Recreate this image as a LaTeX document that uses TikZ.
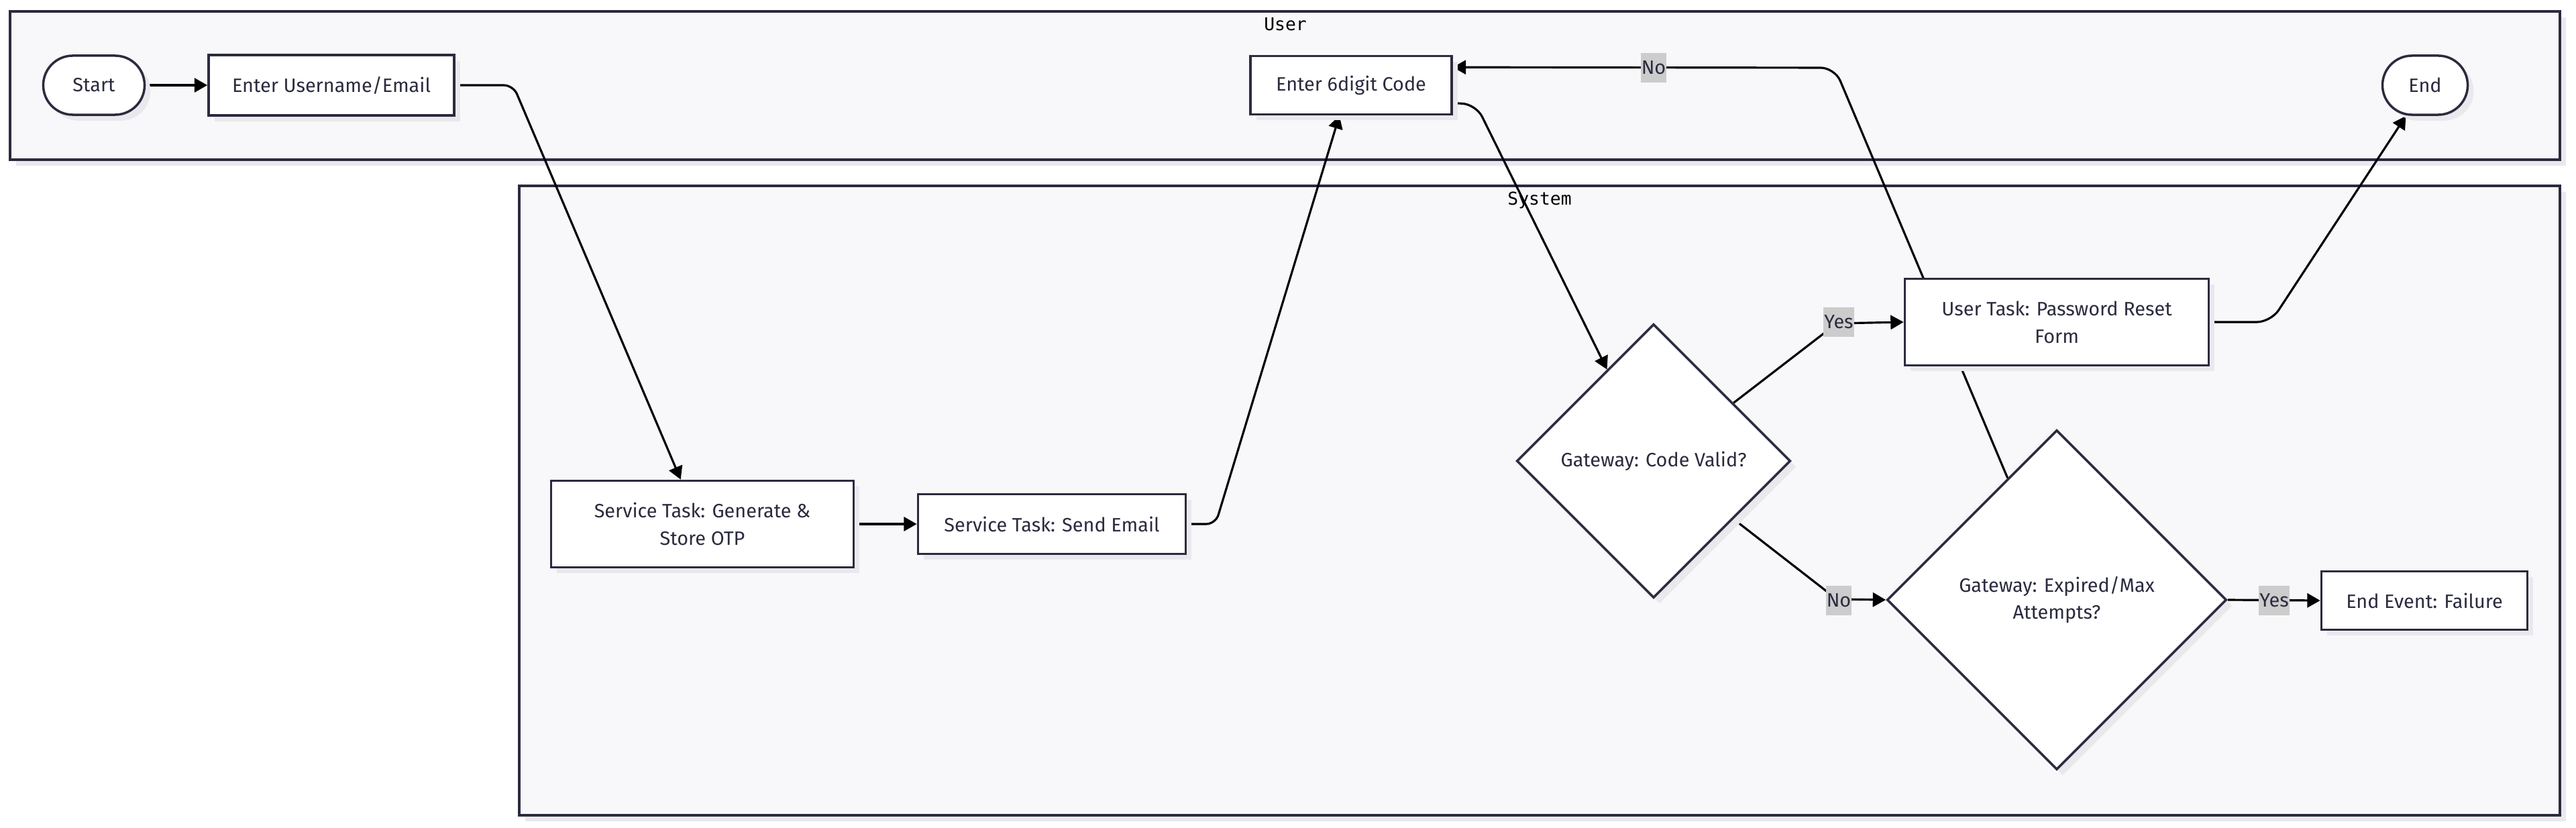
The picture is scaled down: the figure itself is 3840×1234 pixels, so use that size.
\documentclass[tikz,border=0pt]{standalone}
\usepackage{fontspec}
\setmainfont{Fira Sans}
\newfontfamily\lanefont{DejaVu Sans Mono}
\usepackage{tikz}
\usetikzlibrary{shapes.geometric,arrows.meta,shadows}

\definecolor{ink}{HTML}{2B2B3F}
\definecolor{lanefill}{HTML}{F8F8FA}
\definecolor{shade}{HTML}{E9E9ED}
\definecolor{tagfill}{HTML}{CCCCCC}

\pgfdeclarelayer{lanes}
\pgfdeclarelayer{edges}
\pgfsetlayers{lanes,edges,main}

\tikzset{
	boxshadow/.style={drop shadow={shadow xshift=2.5pt,shadow yshift=-2.5pt,fill=shade,opacity=1}},
	lane/.style={draw=ink, fill=lanefill, line width=0.9pt, boxshadow},
	lanelabel/.style={font=\lanefont\fontsize{7.5pt}{9pt}\selectfont, text=black, inner sep=0pt},
	task/.style={draw=ink, fill=white, line width=1pt, text=ink, align=center, inner sep=0pt,
		font=\fontsize{8.2pt}{11.6pt}\selectfont, boxshadow},
	stadium/.style={task, rounded corners=0.44cm, minimum height=0.88cm},
	gateway/.style={task, diamond, aspect=1},
	flow/.style={line width=0.9pt, -{Triangle[length=5.5pt,width=6pt]}},
	tag/.style={fill=tagfill, text=ink, inner xsep=0.3pt, minimum height=0.41cm,
		font=\fontsize{8.2pt}{9pt}\selectfont}
}

\begin{document}
\begin{tikzpicture}[x=0.01cm, y=-0.01cm]
	\begin{pgfonlayer}{lanes}
		\path[fill=white] (0,0) rectangle (3840,1234);
		\draw[lane] (15,17) rectangle (3816,238);
		\node[lanelabel] (userlbl) at (1916,36) {User};
		\draw[lane] (774,277) rectangle (3816,1215);
		\node[lanelabel] (systemlbl) at (2295,298) {System};
	\end{pgfonlayer}
	\useasboundingbox (0,0) rectangle (3840,1234);

	% user lane
	\node[stadium, minimum width=1.51cm] (start) at (140,127) {Start};
	\node[task, minimum width=3.66cm, minimum height=0.9cm] (username) at (494,127) {Enter Username/Email};
	\node[task, minimum width=3.0cm, minimum height=0.87cm] (code) at (2014,127) {Enter 6digit Code};
	\node[stadium, minimum width=1.27cm] (end) at (3615,127) {End};

	% system lane
	\node[task, minimum width=4.51cm, minimum height=1.29cm] (otp) at (1047,781) {Service Task: Generate \&\\Store OTP};
	\node[task, minimum width=3.99cm, minimum height=0.89cm] (email) at (1568,781) {Service Task: Send Email};
	\node[gateway, minimum width=4.08cm, minimum height=4.08cm] (valid) at (2465,687) {Gateway: Code Valid?};
	\node[task, minimum width=4.53cm, minimum height=1.29cm] (reset) at (3066,480) {User Task: Password Reset\\Form};
	\node[gateway, minimum width=5.06cm, minimum height=5.06cm] (expired) at (3066,894) {Gateway: Expired/Max\\Attempts?};
	\node[task, minimum width=3.07cm, minimum height=0.87cm] (failure) at (3614,895) {End Event: Failure};

	\begin{pgfonlayer}{edges}
		\draw[flow] (start) -- (username);
		\draw[flow, rounded corners=4pt] (username.east) -- (765,127) -- (otp.116);
		\draw[flow] (otp) -- (email);
		\draw[flow, rounded corners=4pt] (email.east) -- (1812,781) -- (code.-111);
		\draw[flow, rounded corners=6pt] (code.-10) -- (2200,155) -- (valid.117);
		\draw[flow, rounded corners=3pt] (valid.36) -- (2738,482) -- (reset.west);
		\draw[flow, rounded corners=3pt] (valid.-36) -- (2738,893) -- (expired.west);
		\draw[flow, rounded corners=6pt] (expired.112) -- (2735,101) -- (code.10);
		\draw[flow] (expired.east) -- (failure.west);
		\draw[flow, rounded corners=6pt] (reset.east) -- (3385,480) -- (end.-122);
	\end{pgfonlayer}

	% edge labels
	\node[tag] (yesvalid) at (2741,480) {Yes};
	\node[tag] (novalid) at (2741,895) {No};
	\node[tag] (yesexpired) at (3390,895) {Yes};
	\node[tag] (noexpired) at (2465,101) {No};
\end{tikzpicture}
\end{document}
